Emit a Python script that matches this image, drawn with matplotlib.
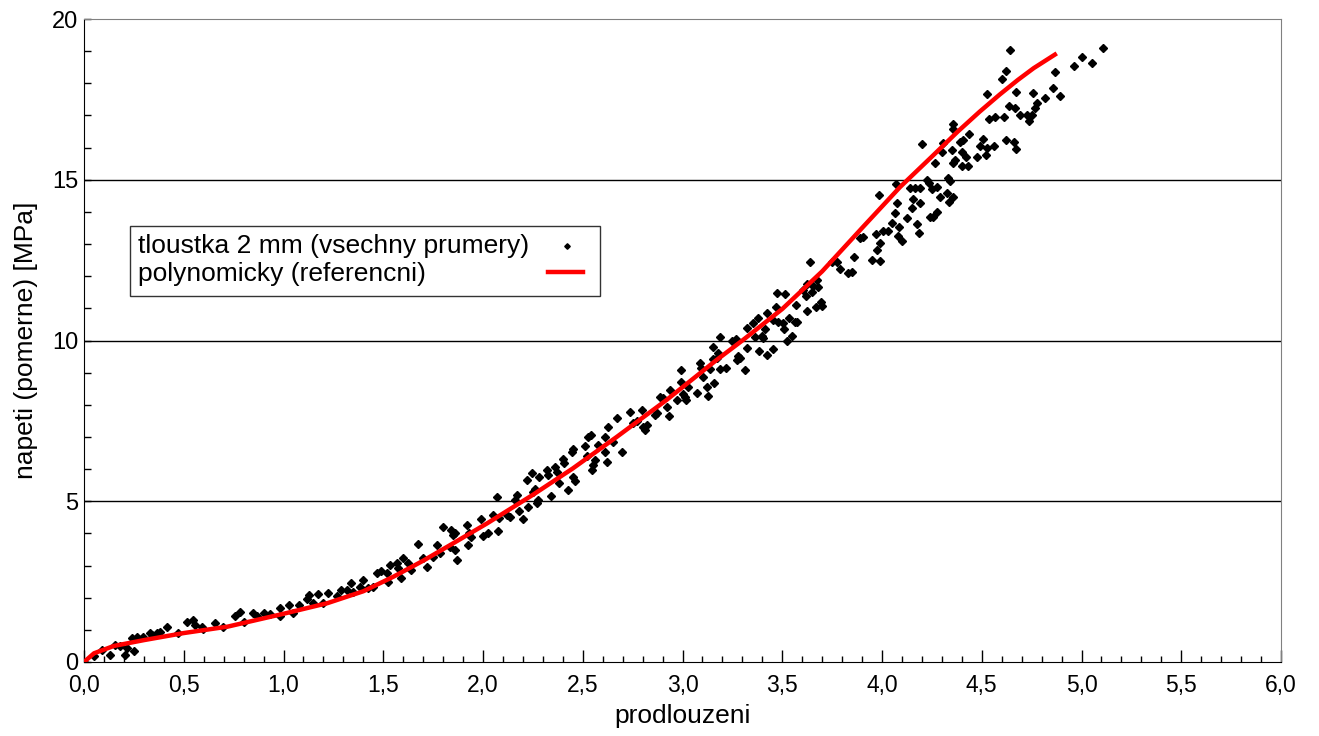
import matplotlib
matplotlib.use('Agg')
import matplotlib.pyplot as plt
from matplotlib.patches import Rectangle
from matplotlib.ticker import MultipleLocator, FuncFormatter

plt.rcParams['font.family'] = ['Liberation Sans', 'DejaVu Sans']

# measured points (prodlouzeni, napeti)
meas_x = [0.0, 0.05, 0.089, 0.13, 0.155, 0.18, 0.205, 0.214, 0.239, 0.25, 0.264, 0.297, 0.33, 0.34,
          0.364, 0.38, 0.414, 0.473, 0.515, 0.548, 0.556, 0.59, 0.598, 0.657, 0.698, 0.757,
          0.782, 0.80, 0.849, 0.866, 0.90, 0.93, 0.98, 0.98, 1.03, 1.05, 1.08, 1.116, 1.13,
          1.15, 1.175, 1.2, 1.225, 1.267, 1.29, 1.317, 1.34, 1.35, 1.383, 1.40, 1.425, 1.45,
          1.467, 1.49, 1.517, 1.525, 1.534, 1.567, 1.575, 1.59, 1.60, 1.625, 1.64, 1.676,
          1.70, 1.718, 1.75, 1.768, 1.784, 1.835, 1.86, 1.868,
          1.80, 1.838, 1.85, 1.86, 1.918, 1.93, 1.94, 1.926, 1.99, 1.998, 2.027, 2.05, 2.07,
          2.077, 2.08,
          2.119, 2.135, 2.16, 2.169, 2.182, 2.202, 2.219, 2.227, 2.244, 2.252, 2.261, 2.269,
          2.277, 2.282, 2.319, 2.327, 2.339, 2.361, 2.369, 2.383, 2.399, 2.406, 2.428, 2.445,
          2.453, 2.453, 2.461, 2.511, 2.52, 2.528, 2.54, 2.545, 2.553, 2.561, 2.578, 2.612,
          2.612, 2.62, 2.628, 2.653, 2.67, 2.695, 2.737, 2.753, 2.77, 2.795, 2.8, 2.812, 2.82,
          2.862, 2.87, 2.92, 2.934, 2.97, 3.02,
          2.887, 2.904, 2.937, 2.991, 2.991, 3.004, 3.013, 3.029, 3.074, 3.088, 3.091, 3.104,
          3.121, 3.126, 3.138, 3.151, 3.155, 3.16, 3.171, 3.18, 3.188, 3.188, 3.218, 3.246,
          3.268, 3.271, 3.28, 3.288, 3.313, 3.322, 3.325, 3.355, 3.363, 3.38, 3.385, 3.397,
          3.402, 3.414, 3.422, 3.425, 3.452, 3.452, 3.469, 3.472, 3.48, 3.505, 3.509, 3.514,
          3.522, 3.535, 3.547, 3.569, 3.564, 3.572, 3.602, 3.619, 3.622, 3.626, 3.647, 3.656,
          3.672, 3.669, 3.681, 3.693, 3.698, 3.639, 3.748, 3.773, 3.79, 3.831, 3.848, 3.86,
          3.948, 3.99, 3.973,
          4.07, 3.987, 4.074, 4.065, 4.048, 4.087, 4.003, 4.032, 3.97, 3.89, 3.906, 3.99,
          4.082, 4.099, 4.124, 4.149, 4.157, 4.14, 4.165, 4.19, 4.19, 4.177, 4.187, 4.227,
          4.237, 4.249, 4.277, 4.291, 4.324, 4.332, 4.341, 4.337, 4.357, 4.266, 4.257, 4.277,
          4.24,
          4.642, 4.622, 4.6, 4.528, 4.672, 4.759, 4.817, 4.859, 4.892, 4.869, 4.962, 5.001,
          5.051, 5.106, 4.638, 4.667, 4.692, 4.725, 4.75, 4.738, 4.779, 4.767, 4.566, 4.538,
          4.612, 4.357, 4.357, 4.199, 4.307, 4.299, 4.349, 4.391, 4.408, 4.438, 4.403, 4.42,
          4.366, 4.357, 4.399, 4.433, 4.508, 4.491, 4.528, 4.478, 4.521, 4.563, 4.622, 4.662,
          4.672]
meas_y = [0.0, 0.2, 0.37, 0.22, 0.53, 0.50, 0.22, 0.43, 0.74, 0.35, 0.79, 0.79, 0.89, 0.84,
          0.91, 0.94, 1.08, 0.91, 1.25, 1.31, 1.15, 1.08, 1.02, 1.2, 1.08, 1.43,
          1.57, 1.25, 1.53, 1.43, 1.51, 1.49, 1.67, 1.43, 1.77, 1.53, 1.77, 1.95, 2.08,
          1.82, 2.12, 1.82, 2.14, 2.05, 2.24, 2.24, 2.47, 2.19, 2.34, 2.55, 2.29, 2.34,
          2.76, 2.84, 2.76, 2.5, 3.02, 3.07, 2.91, 2.6, 3.22, 3.07, 2.86, 3.67,
          3.22, 2.96, 3.28, 3.64, 3.38, 3.59, 3.48, 3.17,
          4.21, 4.11, 3.95, 4.0, 4.26, 4.0, 3.9, 3.64, 4.44, 3.92, 4.0, 4.57, 5.14,
          4.08, 4.47,
          4.57, 4.50, 5.04, 5.19, 4.71, 4.44, 5.66, 4.83, 5.89, 5.30, 5.37, 4.94,
          5.04, 5.76, 5.97, 5.82, 5.16, 6.08, 5.92, 5.58, 6.30, 6.20, 5.35, 6.54,
          6.61, 5.76, 5.64, 6.72, 6.41, 7.01, 7.06, 5.97, 6.13, 6.28, 6.75, 6.99,
          6.54, 6.23, 7.32, 6.85, 7.58, 6.54, 7.79, 7.42, 7.51, 7.84, 7.32, 7.22, 7.37,
          7.68, 7.73, 7.94, 7.65, 8.15, 8.15,
          8.25, 8.20, 8.46, 8.72, 9.08, 8.34, 8.25, 8.56, 8.38, 9.29, 9.13, 8.87,
          8.54, 8.27, 9.10, 9.81, 9.41, 8.67, 9.45, 9.62, 10.10, 9.10, 9.13, 9.99,
          10.04, 9.39, 9.52, 9.45, 9.08, 10.40, 9.76, 10.53, 10.12, 10.69, 9.68, 10.14,
          10.07, 10.36, 9.55, 10.87, 10.64, 9.74, 11.05, 11.49, 10.59, 10.53, 10.35, 11.44,
          9.98, 10.69, 10.14, 11.10, 10.58, 10.57, 11.57, 11.38, 10.92, 11.75, 11.5, 11.70,
          11.88, 11.05, 11.66, 11.21, 11.08, 12.43, 12.45, 12.45, 12.21, 12.09, 12.14, 12.59,
          12.50, 12.47, 12.81,
          14.87, 14.53, 14.29, 13.96, 13.66, 13.54, 13.42, 13.42, 13.31, 13.18, 13.23, 13.04,
          13.25, 13.10, 13.80, 14.11, 14.39, 14.73, 14.73, 14.73, 14.27, 13.62, 13.33, 14.99,
          14.89, 14.70, 14.76, 14.47, 14.58, 15.04, 14.95, 14.32, 14.47, 15.51, 13.85, 14.01,
          13.83,
          19.04, 18.38, 18.12, 17.66, 17.74, 17.69, 17.55, 17.84, 17.61, 18.34, 18.54, 18.83,
          18.64, 19.09, 17.29, 17.22, 17.01, 17.01, 17.01, 16.84, 17.38, 17.22, 16.94, 16.89,
          16.94, 16.73, 16.57, 16.10, 16.15, 15.86, 15.93, 16.18, 16.24, 16.42, 15.87, 15.70,
          15.61, 15.53, 15.43, 15.43, 16.27, 16.05, 15.98, 15.70, 15.77, 16.05, 16.24, 16.18,
          15.97]

# reference polynomial curve
poly_x = [0.0, 0.05, 0.15, 0.3, 0.5, 0.72, 1.0, 1.22, 1.4, 1.55, 1.7, 1.85, 2.02, 2.25, 2.45,
          2.67, 2.92, 3.17, 3.3, 3.5, 3.7, 3.9, 4.09, 4.25, 4.38, 4.49, 4.59, 4.68, 4.76, 4.876]
poly_y = [0.0, 0.27, 0.5, 0.68, 0.9, 1.1, 1.5, 1.83, 2.2, 2.65, 3.15, 3.69, 4.31, 5.2, 6.02,
          7.0, 8.15, 9.39, 10.0, 10.98, 12.15, 13.5, 14.77, 15.72, 16.5, 17.12, 17.65, 18.1,
          18.47, 18.93]

x_ticks = [0.0, 0.5, 1.0, 1.5, 2.0, 2.5, 3.0, 3.5, 4.0, 4.5, 5.0, 5.5, 6.0]
y_ticks = [0, 5, 10, 15, 20]
series_names = ['tloustka 2 mm (vsechny prumery)', 'polynomicky (referencni)']

fig = plt.figure(figsize=(13.19, 7.36), dpi=100)
ax = fig.add_axes([84/1319, 1 - 662/736, 1197/1319, 643/736])

ax.plot(meas_x, meas_y, linestyle='none', marker='D', markersize=3.6, color='black', zorder=3)
ax.plot(poly_x, poly_y, color='#ff0000', linewidth=3.2, solid_capstyle='butt',
        solid_joinstyle='round', zorder=4)

ax.set_xlim(0, 6)
ax.set_ylim(0, 20)
ax.set_xticks(x_ticks)
ax.set_yticks(y_ticks)
ax.xaxis.set_minor_locator(MultipleLocator(0.1))
ax.yaxis.set_minor_locator(MultipleLocator(1))
ax.xaxis.set_major_formatter(FuncFormatter(lambda v, p: f'{v:.1f}'.replace('.', ',')))

ax.tick_params(axis='x', which='major', direction='in', length=8.6, width=1, pad=8.5, labelsize=16.5)
ax.tick_params(axis='x', which='minor', direction='in', length=4.3, width=1)
ax.tick_params(axis='y', which='major', direction='in', length=5, width=1, pad=4, labelsize=17)
ax.tick_params(axis='y', which='minor', direction='in', length=5, width=1)

for v in y_ticks[1:-1]:
    ax.axhline(v, color='black', linewidth=1, zorder=1)

ax.spines['left'].set_color('black')
ax.spines['bottom'].set_color('black')
ax.spines['top'].set_color('#808080')
ax.spines['right'].set_color('#808080')

ax.set_xlabel('prodlouzeni', fontsize=19, labelpad=5)
ax.set_ylabel('napeti (pomerne) [MPa]', fontsize=19, labelpad=10)

# legend box: text left, symbol right
ax.add_patch(Rectangle((46/1197, (662-296)/643), 470/1197, 70/643, transform=ax.transAxes,
                       facecolor='white', edgecolor='#333333', linewidth=1, zorder=5))
ax.text(54/1197, (662-246)/643, series_names[0], transform=ax.transAxes, fontsize=19,
        ha='left', va='center', zorder=6)
ax.text(54/1197, (662-274)/643, series_names[1], transform=ax.transAxes, fontsize=19,
        ha='left', va='center', zorder=6)
ax.plot([483/1197], [(662-246)/643], marker='D', markersize=2.8, color='black',
        linestyle='none', transform=ax.transAxes, zorder=6)
ax.plot([464/1197, 499/1197], [(662-272)/643] * 2, color='#ff0000', linewidth=3.2,
        transform=ax.transAxes, zorder=6)

fig.savefig('out.png', dpi=100)
